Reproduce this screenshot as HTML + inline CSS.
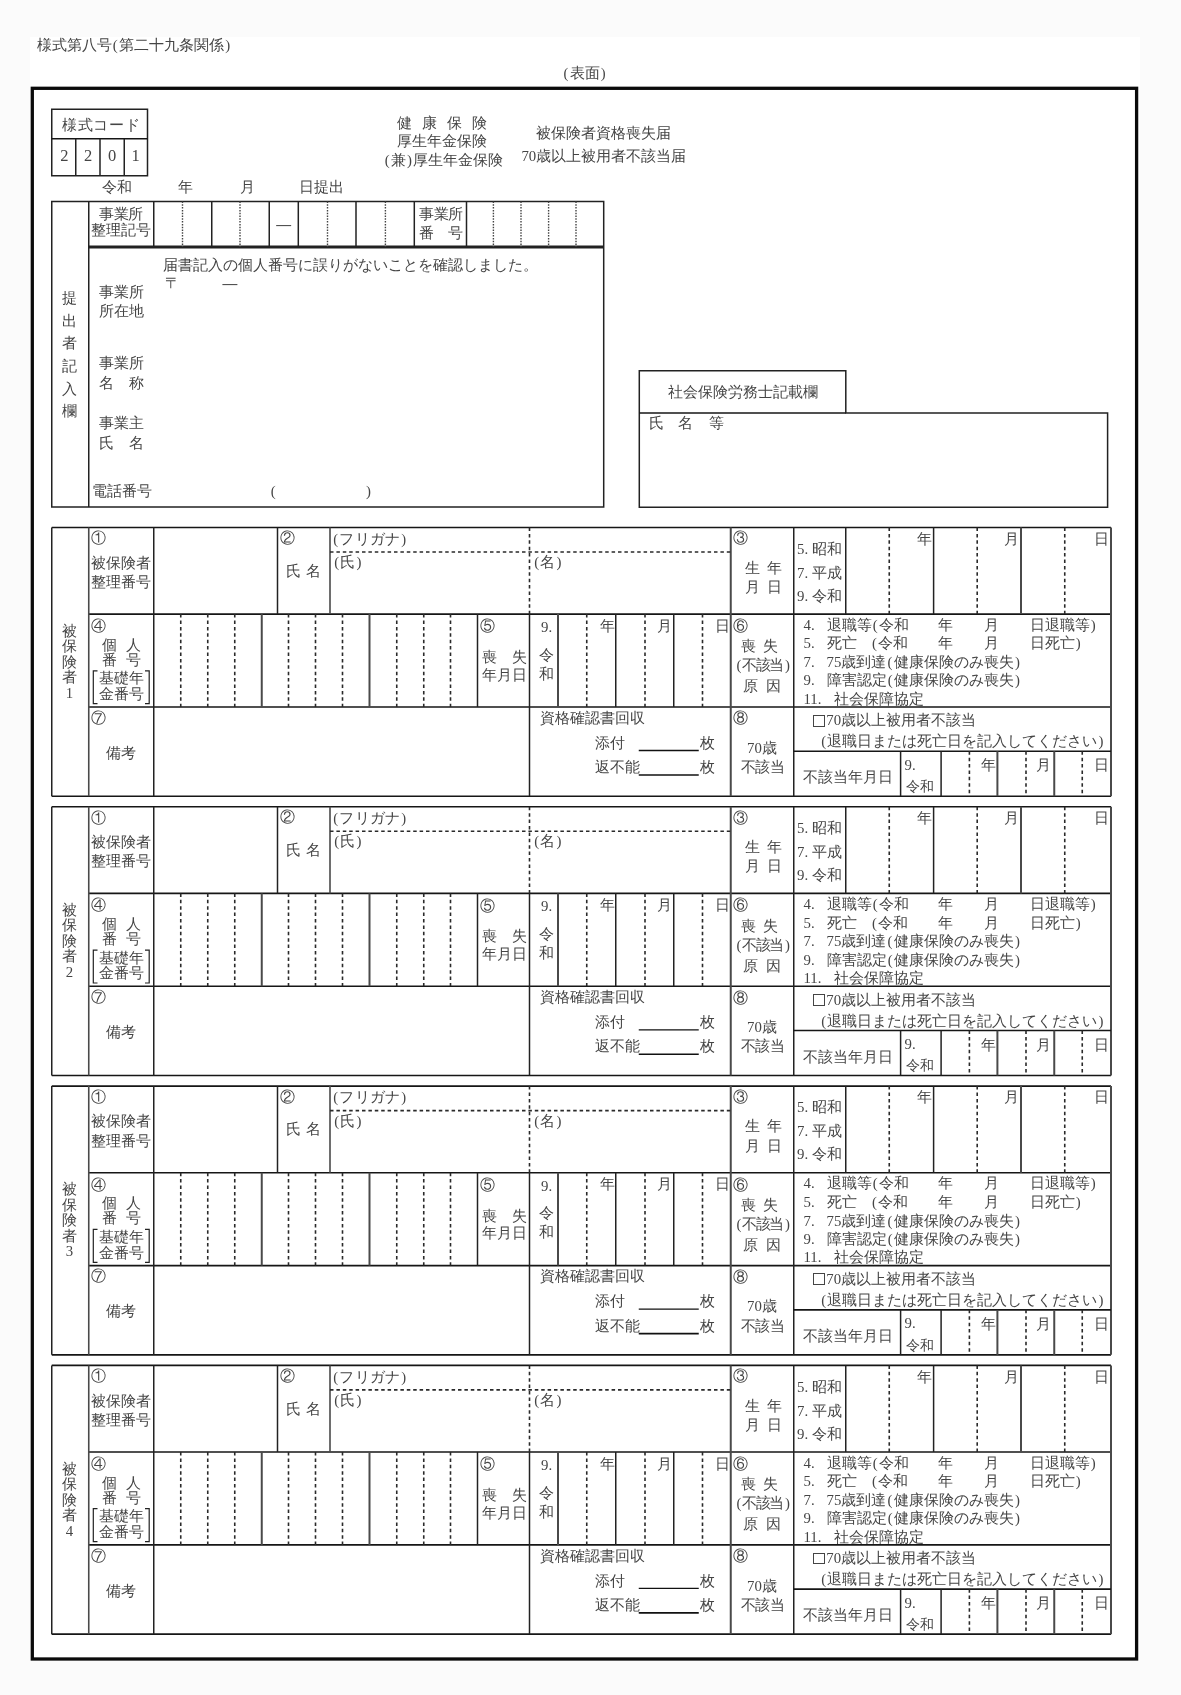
<!DOCTYPE html>
<html lang="ja">
<head>
<meta charset="utf-8">
<title>健康保険・厚生年金保険 被保険者資格喪失届</title>
<style>
html,body{margin:0;padding:0;}
body{width:1181px;height:1695px;background:#fbfbfb;position:relative;overflow:hidden;
font-family:"Liberation Serif",serif;color:#454545;}
#paper{position:absolute;left:29.5px;top:37px;width:1110px;height:1624px;background:#fff;}
#form{position:absolute;left:0;top:0;width:1181px;height:1695px;filter:blur(0.45px);}
#form svg{position:absolute;left:0;top:0;}
#form span{position:absolute;white-space:nowrap;font-size:14.8px;line-height:14.8px;}
#form span i{display:inline-block;width:.5em;text-align:center;font-style:normal;}
#form span b.sq{display:inline-block;box-sizing:border-box;width:.8em;height:.8em;margin:0 .1em;border:1px solid #454545;vertical-align:-0.08em;}
#form span.dash{font-weight:bold;}
</style>
</head>
<body>
<div id="paper"></div>
<div id="form">
<svg width="1181" height="1695" viewBox="0 0 1181 1695">
<rect x="32.30" y="88.30" width="1104.30" height="1570.70" fill="none" stroke="#0a0a0a" stroke-width="3.3"/>
<rect x="51.75" y="109.25" width="95.75" height="66.50" fill="none" stroke="#222222" stroke-width="1.5"/>
<line x1="51.75" y1="138.75" x2="147.50" y2="138.75" stroke="#161616" stroke-width="1.6"/>
<line x1="75.75" y1="138.75" x2="75.75" y2="175.75" stroke="#222222" stroke-width="1.5"/>
<line x1="100.00" y1="138.75" x2="100.00" y2="175.75" stroke="#222222" stroke-width="1.5"/>
<line x1="124.25" y1="138.75" x2="124.25" y2="175.75" stroke="#222222" stroke-width="1.5"/>
<rect x="51.75" y="201.50" width="551.95" height="305.50" fill="none" stroke="#222222" stroke-width="1.5"/>
<line x1="88.75" y1="201.50" x2="88.75" y2="507.00" stroke="#222222" stroke-width="1.5"/>
<line x1="88.75" y1="247.00" x2="603.70" y2="247.00" stroke="#222" stroke-width="3.0"/>
<line x1="153.75" y1="201.50" x2="153.75" y2="247.00" stroke="#222222" stroke-width="1.5"/>
<line x1="182.50" y1="201.50" x2="182.50" y2="247.00" stroke="#444" stroke-width="1.4" stroke-dasharray="1.5 1.3"/>
<line x1="211.75" y1="201.50" x2="211.75" y2="247.00" stroke="#222222" stroke-width="1.5"/>
<line x1="240.00" y1="201.50" x2="240.00" y2="247.00" stroke="#444" stroke-width="1.4" stroke-dasharray="1.5 1.3"/>
<line x1="269.25" y1="201.50" x2="269.25" y2="247.00" stroke="#222222" stroke-width="1.5"/>
<line x1="298.30" y1="201.50" x2="298.30" y2="247.00" stroke="#222222" stroke-width="1.5"/>
<line x1="327.50" y1="201.50" x2="327.50" y2="247.00" stroke="#444" stroke-width="1.4" stroke-dasharray="1.5 1.3"/>
<line x1="356.00" y1="201.50" x2="356.00" y2="247.00" stroke="#222222" stroke-width="1.5"/>
<line x1="385.40" y1="201.50" x2="385.40" y2="247.00" stroke="#444" stroke-width="1.4" stroke-dasharray="1.5 1.3"/>
<line x1="414.30" y1="201.50" x2="414.30" y2="247.00" stroke="#222222" stroke-width="1.5"/>
<line x1="466.50" y1="201.50" x2="466.50" y2="247.00" stroke="#222222" stroke-width="1.5"/>
<line x1="493.40" y1="201.50" x2="493.40" y2="247.00" stroke="#444" stroke-width="1.4" stroke-dasharray="1.5 1.3"/>
<line x1="521.00" y1="201.50" x2="521.00" y2="247.00" stroke="#444" stroke-width="1.4" stroke-dasharray="1.5 1.3"/>
<line x1="548.60" y1="201.50" x2="548.60" y2="247.00" stroke="#444" stroke-width="1.4" stroke-dasharray="1.5 1.3"/>
<line x1="576.00" y1="201.50" x2="576.00" y2="247.00" stroke="#444" stroke-width="1.4" stroke-dasharray="1.5 1.3"/>
<path d="M639.3 507.3 V370.8 H845.8 V413 H1107.6 V507.3 Z" fill="none" stroke="#222222" stroke-width="1.5"/>
<line x1="639.30" y1="413.00" x2="845.80" y2="413.00" stroke="#161616" stroke-width="1.6"/>
<line x1="51.75" y1="527.50" x2="1111.00" y2="527.50" stroke="#161616" stroke-width="1.6"/>
<line x1="88.75" y1="614.10" x2="1111.00" y2="614.10" stroke="#161616" stroke-width="1.6"/>
<line x1="88.75" y1="707.00" x2="1111.00" y2="707.00" stroke="#161616" stroke-width="1.6"/>
<line x1="51.75" y1="796.25" x2="1111.00" y2="796.25" stroke="#161616" stroke-width="1.6"/>
<line x1="51.75" y1="527.50" x2="51.75" y2="796.25" stroke="#222222" stroke-width="1.5"/>
<line x1="88.75" y1="527.50" x2="88.75" y2="796.25" stroke="#4a4a4a" stroke-width="1.6"/>
<line x1="153.75" y1="527.50" x2="153.75" y2="796.25" stroke="#222222" stroke-width="1.5"/>
<line x1="277.50" y1="527.50" x2="277.50" y2="614.10" stroke="#222222" stroke-width="1.5"/>
<line x1="330.00" y1="527.50" x2="330.00" y2="614.10" stroke="#4a4a4a" stroke-width="1.6"/>
<line x1="529.50" y1="527.50" x2="529.50" y2="614.10" stroke="#2a2a2a" stroke-width="1.6" stroke-dasharray="3.5 2.9"/>
<line x1="529.50" y1="614.10" x2="529.50" y2="796.25" stroke="#222222" stroke-width="1.5"/>
<line x1="730.75" y1="527.50" x2="730.75" y2="796.25" stroke="#4a4a4a" stroke-width="2.0"/>
<line x1="793.75" y1="527.50" x2="793.75" y2="796.25" stroke="#222222" stroke-width="1.5"/>
<line x1="1111.00" y1="527.50" x2="1111.00" y2="796.25" stroke="#4a4a4a" stroke-width="2.0"/>
<line x1="330.00" y1="552.00" x2="730.75" y2="552.00" stroke="#2a2a2a" stroke-width="1.6" stroke-dasharray="3.5 2.9"/>
<line x1="845.75" y1="527.50" x2="845.75" y2="614.10" stroke="#222222" stroke-width="1.5"/>
<line x1="889.25" y1="527.50" x2="889.25" y2="614.10" stroke="#2a2a2a" stroke-width="1.6" stroke-dasharray="3.5 2.9"/>
<line x1="933.60" y1="527.50" x2="933.60" y2="614.10" stroke="#222222" stroke-width="1.5"/>
<line x1="977.20" y1="527.50" x2="977.20" y2="614.10" stroke="#2a2a2a" stroke-width="1.6" stroke-dasharray="3.5 2.9"/>
<line x1="1021.00" y1="527.50" x2="1021.00" y2="614.10" stroke="#4a4a4a" stroke-width="2.0"/>
<line x1="1064.75" y1="527.50" x2="1064.75" y2="614.10" stroke="#2a2a2a" stroke-width="1.6" stroke-dasharray="3.5 2.9"/>
<line x1="180.75" y1="614.10" x2="180.75" y2="707.00" stroke="#2a2a2a" stroke-width="1.6" stroke-dasharray="3.5 2.9"/>
<line x1="207.75" y1="614.10" x2="207.75" y2="707.00" stroke="#2a2a2a" stroke-width="1.6" stroke-dasharray="3.5 2.9"/>
<line x1="234.75" y1="614.10" x2="234.75" y2="707.00" stroke="#2a2a2a" stroke-width="1.6" stroke-dasharray="3.5 2.9"/>
<line x1="261.75" y1="614.10" x2="261.75" y2="707.00" stroke="#4a4a4a" stroke-width="2.0"/>
<line x1="288.50" y1="614.10" x2="288.50" y2="707.00" stroke="#2a2a2a" stroke-width="1.6" stroke-dasharray="3.5 2.9"/>
<line x1="315.50" y1="614.10" x2="315.50" y2="707.00" stroke="#2a2a2a" stroke-width="1.6" stroke-dasharray="3.5 2.9"/>
<line x1="342.50" y1="614.10" x2="342.50" y2="707.00" stroke="#2a2a2a" stroke-width="1.6" stroke-dasharray="3.5 2.9"/>
<line x1="369.50" y1="614.10" x2="369.50" y2="707.00" stroke="#4a4a4a" stroke-width="2.0"/>
<line x1="396.75" y1="614.10" x2="396.75" y2="707.00" stroke="#2a2a2a" stroke-width="1.6" stroke-dasharray="3.5 2.9"/>
<line x1="423.75" y1="614.10" x2="423.75" y2="707.00" stroke="#2a2a2a" stroke-width="1.6" stroke-dasharray="3.5 2.9"/>
<line x1="450.50" y1="614.10" x2="450.50" y2="707.00" stroke="#2a2a2a" stroke-width="1.6" stroke-dasharray="3.5 2.9"/>
<line x1="477.50" y1="614.10" x2="477.50" y2="707.00" stroke="#222222" stroke-width="1.5"/>
<line x1="558.00" y1="614.10" x2="558.00" y2="707.00" stroke="#4a4a4a" stroke-width="2.0"/>
<line x1="586.75" y1="614.10" x2="586.75" y2="707.00" stroke="#2a2a2a" stroke-width="1.6" stroke-dasharray="3.5 2.9"/>
<line x1="615.75" y1="614.10" x2="615.75" y2="707.00" stroke="#222222" stroke-width="1.5"/>
<line x1="645.00" y1="614.10" x2="645.00" y2="707.00" stroke="#2a2a2a" stroke-width="1.6" stroke-dasharray="3.5 2.9"/>
<line x1="673.75" y1="614.10" x2="673.75" y2="707.00" stroke="#222222" stroke-width="1.5"/>
<line x1="702.50" y1="614.10" x2="702.50" y2="707.00" stroke="#2a2a2a" stroke-width="1.6" stroke-dasharray="3.5 2.9"/>
<line x1="793.75" y1="751.25" x2="1111.00" y2="751.25" stroke="#161616" stroke-width="1.6"/>
<line x1="900.60" y1="751.25" x2="900.60" y2="796.25" stroke="#222222" stroke-width="1.5"/>
<line x1="941.10" y1="751.25" x2="941.10" y2="796.25" stroke="#222222" stroke-width="1.5"/>
<line x1="969.40" y1="751.25" x2="969.40" y2="796.25" stroke="#2a2a2a" stroke-width="1.6" stroke-dasharray="3.5 2.9"/>
<line x1="997.40" y1="751.25" x2="997.40" y2="796.25" stroke="#4a4a4a" stroke-width="2.0"/>
<line x1="1026.00" y1="751.25" x2="1026.00" y2="796.25" stroke="#2a2a2a" stroke-width="1.6" stroke-dasharray="3.5 2.9"/>
<line x1="1054.25" y1="751.25" x2="1054.25" y2="796.25" stroke="#4a4a4a" stroke-width="2.0"/>
<line x1="1082.25" y1="751.25" x2="1082.25" y2="796.25" stroke="#2a2a2a" stroke-width="1.6" stroke-dasharray="3.5 2.9"/>
<line x1="638.75" y1="750.50" x2="698.75" y2="750.50" stroke="#111" stroke-width="1.3"/>
<line x1="638.75" y1="775.00" x2="698.75" y2="775.00" stroke="#111" stroke-width="1.6"/>
<path d="M97.50 670.80 H93.3 V703.70 H97.5 M145 670.80 H149.2 V703.70 H145" fill="none" stroke="#222222" stroke-width="1.2"/>
<line x1="51.75" y1="806.80" x2="1111.00" y2="806.80" stroke="#161616" stroke-width="1.6"/>
<line x1="88.75" y1="893.40" x2="1111.00" y2="893.40" stroke="#161616" stroke-width="1.6"/>
<line x1="88.75" y1="986.30" x2="1111.00" y2="986.30" stroke="#161616" stroke-width="1.6"/>
<line x1="51.75" y1="1075.55" x2="1111.00" y2="1075.55" stroke="#161616" stroke-width="1.6"/>
<line x1="51.75" y1="806.80" x2="51.75" y2="1075.55" stroke="#222222" stroke-width="1.5"/>
<line x1="88.75" y1="806.80" x2="88.75" y2="1075.55" stroke="#4a4a4a" stroke-width="1.6"/>
<line x1="153.75" y1="806.80" x2="153.75" y2="1075.55" stroke="#222222" stroke-width="1.5"/>
<line x1="277.50" y1="806.80" x2="277.50" y2="893.40" stroke="#222222" stroke-width="1.5"/>
<line x1="330.00" y1="806.80" x2="330.00" y2="893.40" stroke="#4a4a4a" stroke-width="1.6"/>
<line x1="529.50" y1="806.80" x2="529.50" y2="893.40" stroke="#2a2a2a" stroke-width="1.6" stroke-dasharray="3.5 2.9"/>
<line x1="529.50" y1="893.40" x2="529.50" y2="1075.55" stroke="#222222" stroke-width="1.5"/>
<line x1="730.75" y1="806.80" x2="730.75" y2="1075.55" stroke="#4a4a4a" stroke-width="2.0"/>
<line x1="793.75" y1="806.80" x2="793.75" y2="1075.55" stroke="#222222" stroke-width="1.5"/>
<line x1="1111.00" y1="806.80" x2="1111.00" y2="1075.55" stroke="#4a4a4a" stroke-width="2.0"/>
<line x1="330.00" y1="831.30" x2="730.75" y2="831.30" stroke="#2a2a2a" stroke-width="1.6" stroke-dasharray="3.5 2.9"/>
<line x1="845.75" y1="806.80" x2="845.75" y2="893.40" stroke="#222222" stroke-width="1.5"/>
<line x1="889.25" y1="806.80" x2="889.25" y2="893.40" stroke="#2a2a2a" stroke-width="1.6" stroke-dasharray="3.5 2.9"/>
<line x1="933.60" y1="806.80" x2="933.60" y2="893.40" stroke="#222222" stroke-width="1.5"/>
<line x1="977.20" y1="806.80" x2="977.20" y2="893.40" stroke="#2a2a2a" stroke-width="1.6" stroke-dasharray="3.5 2.9"/>
<line x1="1021.00" y1="806.80" x2="1021.00" y2="893.40" stroke="#4a4a4a" stroke-width="2.0"/>
<line x1="1064.75" y1="806.80" x2="1064.75" y2="893.40" stroke="#2a2a2a" stroke-width="1.6" stroke-dasharray="3.5 2.9"/>
<line x1="180.75" y1="893.40" x2="180.75" y2="986.30" stroke="#2a2a2a" stroke-width="1.6" stroke-dasharray="3.5 2.9"/>
<line x1="207.75" y1="893.40" x2="207.75" y2="986.30" stroke="#2a2a2a" stroke-width="1.6" stroke-dasharray="3.5 2.9"/>
<line x1="234.75" y1="893.40" x2="234.75" y2="986.30" stroke="#2a2a2a" stroke-width="1.6" stroke-dasharray="3.5 2.9"/>
<line x1="261.75" y1="893.40" x2="261.75" y2="986.30" stroke="#4a4a4a" stroke-width="2.0"/>
<line x1="288.50" y1="893.40" x2="288.50" y2="986.30" stroke="#2a2a2a" stroke-width="1.6" stroke-dasharray="3.5 2.9"/>
<line x1="315.50" y1="893.40" x2="315.50" y2="986.30" stroke="#2a2a2a" stroke-width="1.6" stroke-dasharray="3.5 2.9"/>
<line x1="342.50" y1="893.40" x2="342.50" y2="986.30" stroke="#2a2a2a" stroke-width="1.6" stroke-dasharray="3.5 2.9"/>
<line x1="369.50" y1="893.40" x2="369.50" y2="986.30" stroke="#4a4a4a" stroke-width="2.0"/>
<line x1="396.75" y1="893.40" x2="396.75" y2="986.30" stroke="#2a2a2a" stroke-width="1.6" stroke-dasharray="3.5 2.9"/>
<line x1="423.75" y1="893.40" x2="423.75" y2="986.30" stroke="#2a2a2a" stroke-width="1.6" stroke-dasharray="3.5 2.9"/>
<line x1="450.50" y1="893.40" x2="450.50" y2="986.30" stroke="#2a2a2a" stroke-width="1.6" stroke-dasharray="3.5 2.9"/>
<line x1="477.50" y1="893.40" x2="477.50" y2="986.30" stroke="#222222" stroke-width="1.5"/>
<line x1="558.00" y1="893.40" x2="558.00" y2="986.30" stroke="#4a4a4a" stroke-width="2.0"/>
<line x1="586.75" y1="893.40" x2="586.75" y2="986.30" stroke="#2a2a2a" stroke-width="1.6" stroke-dasharray="3.5 2.9"/>
<line x1="615.75" y1="893.40" x2="615.75" y2="986.30" stroke="#222222" stroke-width="1.5"/>
<line x1="645.00" y1="893.40" x2="645.00" y2="986.30" stroke="#2a2a2a" stroke-width="1.6" stroke-dasharray="3.5 2.9"/>
<line x1="673.75" y1="893.40" x2="673.75" y2="986.30" stroke="#222222" stroke-width="1.5"/>
<line x1="702.50" y1="893.40" x2="702.50" y2="986.30" stroke="#2a2a2a" stroke-width="1.6" stroke-dasharray="3.5 2.9"/>
<line x1="793.75" y1="1030.55" x2="1111.00" y2="1030.55" stroke="#161616" stroke-width="1.6"/>
<line x1="900.60" y1="1030.55" x2="900.60" y2="1075.55" stroke="#222222" stroke-width="1.5"/>
<line x1="941.10" y1="1030.55" x2="941.10" y2="1075.55" stroke="#222222" stroke-width="1.5"/>
<line x1="969.40" y1="1030.55" x2="969.40" y2="1075.55" stroke="#2a2a2a" stroke-width="1.6" stroke-dasharray="3.5 2.9"/>
<line x1="997.40" y1="1030.55" x2="997.40" y2="1075.55" stroke="#4a4a4a" stroke-width="2.0"/>
<line x1="1026.00" y1="1030.55" x2="1026.00" y2="1075.55" stroke="#2a2a2a" stroke-width="1.6" stroke-dasharray="3.5 2.9"/>
<line x1="1054.25" y1="1030.55" x2="1054.25" y2="1075.55" stroke="#4a4a4a" stroke-width="2.0"/>
<line x1="1082.25" y1="1030.55" x2="1082.25" y2="1075.55" stroke="#2a2a2a" stroke-width="1.6" stroke-dasharray="3.5 2.9"/>
<line x1="638.75" y1="1029.80" x2="698.75" y2="1029.80" stroke="#111" stroke-width="1.3"/>
<line x1="638.75" y1="1054.30" x2="698.75" y2="1054.30" stroke="#111" stroke-width="1.6"/>
<path d="M97.50 950.10 H93.3 V983.00 H97.5 M145 950.10 H149.2 V983.00 H145" fill="none" stroke="#222222" stroke-width="1.2"/>
<line x1="51.75" y1="1086.10" x2="1111.00" y2="1086.10" stroke="#161616" stroke-width="1.6"/>
<line x1="88.75" y1="1172.70" x2="1111.00" y2="1172.70" stroke="#161616" stroke-width="1.6"/>
<line x1="88.75" y1="1265.60" x2="1111.00" y2="1265.60" stroke="#161616" stroke-width="1.6"/>
<line x1="51.75" y1="1354.85" x2="1111.00" y2="1354.85" stroke="#161616" stroke-width="1.6"/>
<line x1="51.75" y1="1086.10" x2="51.75" y2="1354.85" stroke="#222222" stroke-width="1.5"/>
<line x1="88.75" y1="1086.10" x2="88.75" y2="1354.85" stroke="#4a4a4a" stroke-width="1.6"/>
<line x1="153.75" y1="1086.10" x2="153.75" y2="1354.85" stroke="#222222" stroke-width="1.5"/>
<line x1="277.50" y1="1086.10" x2="277.50" y2="1172.70" stroke="#222222" stroke-width="1.5"/>
<line x1="330.00" y1="1086.10" x2="330.00" y2="1172.70" stroke="#4a4a4a" stroke-width="1.6"/>
<line x1="529.50" y1="1086.10" x2="529.50" y2="1172.70" stroke="#2a2a2a" stroke-width="1.6" stroke-dasharray="3.5 2.9"/>
<line x1="529.50" y1="1172.70" x2="529.50" y2="1354.85" stroke="#222222" stroke-width="1.5"/>
<line x1="730.75" y1="1086.10" x2="730.75" y2="1354.85" stroke="#4a4a4a" stroke-width="2.0"/>
<line x1="793.75" y1="1086.10" x2="793.75" y2="1354.85" stroke="#222222" stroke-width="1.5"/>
<line x1="1111.00" y1="1086.10" x2="1111.00" y2="1354.85" stroke="#4a4a4a" stroke-width="2.0"/>
<line x1="330.00" y1="1110.60" x2="730.75" y2="1110.60" stroke="#2a2a2a" stroke-width="1.6" stroke-dasharray="3.5 2.9"/>
<line x1="845.75" y1="1086.10" x2="845.75" y2="1172.70" stroke="#222222" stroke-width="1.5"/>
<line x1="889.25" y1="1086.10" x2="889.25" y2="1172.70" stroke="#2a2a2a" stroke-width="1.6" stroke-dasharray="3.5 2.9"/>
<line x1="933.60" y1="1086.10" x2="933.60" y2="1172.70" stroke="#222222" stroke-width="1.5"/>
<line x1="977.20" y1="1086.10" x2="977.20" y2="1172.70" stroke="#2a2a2a" stroke-width="1.6" stroke-dasharray="3.5 2.9"/>
<line x1="1021.00" y1="1086.10" x2="1021.00" y2="1172.70" stroke="#4a4a4a" stroke-width="2.0"/>
<line x1="1064.75" y1="1086.10" x2="1064.75" y2="1172.70" stroke="#2a2a2a" stroke-width="1.6" stroke-dasharray="3.5 2.9"/>
<line x1="180.75" y1="1172.70" x2="180.75" y2="1265.60" stroke="#2a2a2a" stroke-width="1.6" stroke-dasharray="3.5 2.9"/>
<line x1="207.75" y1="1172.70" x2="207.75" y2="1265.60" stroke="#2a2a2a" stroke-width="1.6" stroke-dasharray="3.5 2.9"/>
<line x1="234.75" y1="1172.70" x2="234.75" y2="1265.60" stroke="#2a2a2a" stroke-width="1.6" stroke-dasharray="3.5 2.9"/>
<line x1="261.75" y1="1172.70" x2="261.75" y2="1265.60" stroke="#4a4a4a" stroke-width="2.0"/>
<line x1="288.50" y1="1172.70" x2="288.50" y2="1265.60" stroke="#2a2a2a" stroke-width="1.6" stroke-dasharray="3.5 2.9"/>
<line x1="315.50" y1="1172.70" x2="315.50" y2="1265.60" stroke="#2a2a2a" stroke-width="1.6" stroke-dasharray="3.5 2.9"/>
<line x1="342.50" y1="1172.70" x2="342.50" y2="1265.60" stroke="#2a2a2a" stroke-width="1.6" stroke-dasharray="3.5 2.9"/>
<line x1="369.50" y1="1172.70" x2="369.50" y2="1265.60" stroke="#4a4a4a" stroke-width="2.0"/>
<line x1="396.75" y1="1172.70" x2="396.75" y2="1265.60" stroke="#2a2a2a" stroke-width="1.6" stroke-dasharray="3.5 2.9"/>
<line x1="423.75" y1="1172.70" x2="423.75" y2="1265.60" stroke="#2a2a2a" stroke-width="1.6" stroke-dasharray="3.5 2.9"/>
<line x1="450.50" y1="1172.70" x2="450.50" y2="1265.60" stroke="#2a2a2a" stroke-width="1.6" stroke-dasharray="3.5 2.9"/>
<line x1="477.50" y1="1172.70" x2="477.50" y2="1265.60" stroke="#222222" stroke-width="1.5"/>
<line x1="558.00" y1="1172.70" x2="558.00" y2="1265.60" stroke="#4a4a4a" stroke-width="2.0"/>
<line x1="586.75" y1="1172.70" x2="586.75" y2="1265.60" stroke="#2a2a2a" stroke-width="1.6" stroke-dasharray="3.5 2.9"/>
<line x1="615.75" y1="1172.70" x2="615.75" y2="1265.60" stroke="#222222" stroke-width="1.5"/>
<line x1="645.00" y1="1172.70" x2="645.00" y2="1265.60" stroke="#2a2a2a" stroke-width="1.6" stroke-dasharray="3.5 2.9"/>
<line x1="673.75" y1="1172.70" x2="673.75" y2="1265.60" stroke="#222222" stroke-width="1.5"/>
<line x1="702.50" y1="1172.70" x2="702.50" y2="1265.60" stroke="#2a2a2a" stroke-width="1.6" stroke-dasharray="3.5 2.9"/>
<line x1="793.75" y1="1309.85" x2="1111.00" y2="1309.85" stroke="#161616" stroke-width="1.6"/>
<line x1="900.60" y1="1309.85" x2="900.60" y2="1354.85" stroke="#222222" stroke-width="1.5"/>
<line x1="941.10" y1="1309.85" x2="941.10" y2="1354.85" stroke="#222222" stroke-width="1.5"/>
<line x1="969.40" y1="1309.85" x2="969.40" y2="1354.85" stroke="#2a2a2a" stroke-width="1.6" stroke-dasharray="3.5 2.9"/>
<line x1="997.40" y1="1309.85" x2="997.40" y2="1354.85" stroke="#4a4a4a" stroke-width="2.0"/>
<line x1="1026.00" y1="1309.85" x2="1026.00" y2="1354.85" stroke="#2a2a2a" stroke-width="1.6" stroke-dasharray="3.5 2.9"/>
<line x1="1054.25" y1="1309.85" x2="1054.25" y2="1354.85" stroke="#4a4a4a" stroke-width="2.0"/>
<line x1="1082.25" y1="1309.85" x2="1082.25" y2="1354.85" stroke="#2a2a2a" stroke-width="1.6" stroke-dasharray="3.5 2.9"/>
<line x1="638.75" y1="1309.10" x2="698.75" y2="1309.10" stroke="#111" stroke-width="1.3"/>
<line x1="638.75" y1="1333.60" x2="698.75" y2="1333.60" stroke="#111" stroke-width="1.6"/>
<path d="M97.50 1229.40 H93.3 V1262.30 H97.5 M145 1229.40 H149.2 V1262.30 H145" fill="none" stroke="#222222" stroke-width="1.2"/>
<line x1="51.75" y1="1365.40" x2="1111.00" y2="1365.40" stroke="#161616" stroke-width="1.6"/>
<line x1="88.75" y1="1452.00" x2="1111.00" y2="1452.00" stroke="#161616" stroke-width="1.6"/>
<line x1="88.75" y1="1544.90" x2="1111.00" y2="1544.90" stroke="#161616" stroke-width="1.6"/>
<line x1="51.75" y1="1634.15" x2="1111.00" y2="1634.15" stroke="#161616" stroke-width="1.6"/>
<line x1="51.75" y1="1365.40" x2="51.75" y2="1634.15" stroke="#222222" stroke-width="1.5"/>
<line x1="88.75" y1="1365.40" x2="88.75" y2="1634.15" stroke="#4a4a4a" stroke-width="1.6"/>
<line x1="153.75" y1="1365.40" x2="153.75" y2="1634.15" stroke="#222222" stroke-width="1.5"/>
<line x1="277.50" y1="1365.40" x2="277.50" y2="1452.00" stroke="#222222" stroke-width="1.5"/>
<line x1="330.00" y1="1365.40" x2="330.00" y2="1452.00" stroke="#4a4a4a" stroke-width="1.6"/>
<line x1="529.50" y1="1365.40" x2="529.50" y2="1452.00" stroke="#2a2a2a" stroke-width="1.6" stroke-dasharray="3.5 2.9"/>
<line x1="529.50" y1="1452.00" x2="529.50" y2="1634.15" stroke="#222222" stroke-width="1.5"/>
<line x1="730.75" y1="1365.40" x2="730.75" y2="1634.15" stroke="#4a4a4a" stroke-width="2.0"/>
<line x1="793.75" y1="1365.40" x2="793.75" y2="1634.15" stroke="#222222" stroke-width="1.5"/>
<line x1="1111.00" y1="1365.40" x2="1111.00" y2="1634.15" stroke="#4a4a4a" stroke-width="2.0"/>
<line x1="330.00" y1="1389.90" x2="730.75" y2="1389.90" stroke="#2a2a2a" stroke-width="1.6" stroke-dasharray="3.5 2.9"/>
<line x1="845.75" y1="1365.40" x2="845.75" y2="1452.00" stroke="#222222" stroke-width="1.5"/>
<line x1="889.25" y1="1365.40" x2="889.25" y2="1452.00" stroke="#2a2a2a" stroke-width="1.6" stroke-dasharray="3.5 2.9"/>
<line x1="933.60" y1="1365.40" x2="933.60" y2="1452.00" stroke="#222222" stroke-width="1.5"/>
<line x1="977.20" y1="1365.40" x2="977.20" y2="1452.00" stroke="#2a2a2a" stroke-width="1.6" stroke-dasharray="3.5 2.9"/>
<line x1="1021.00" y1="1365.40" x2="1021.00" y2="1452.00" stroke="#4a4a4a" stroke-width="2.0"/>
<line x1="1064.75" y1="1365.40" x2="1064.75" y2="1452.00" stroke="#2a2a2a" stroke-width="1.6" stroke-dasharray="3.5 2.9"/>
<line x1="180.75" y1="1452.00" x2="180.75" y2="1544.90" stroke="#2a2a2a" stroke-width="1.6" stroke-dasharray="3.5 2.9"/>
<line x1="207.75" y1="1452.00" x2="207.75" y2="1544.90" stroke="#2a2a2a" stroke-width="1.6" stroke-dasharray="3.5 2.9"/>
<line x1="234.75" y1="1452.00" x2="234.75" y2="1544.90" stroke="#2a2a2a" stroke-width="1.6" stroke-dasharray="3.5 2.9"/>
<line x1="261.75" y1="1452.00" x2="261.75" y2="1544.90" stroke="#4a4a4a" stroke-width="2.0"/>
<line x1="288.50" y1="1452.00" x2="288.50" y2="1544.90" stroke="#2a2a2a" stroke-width="1.6" stroke-dasharray="3.5 2.9"/>
<line x1="315.50" y1="1452.00" x2="315.50" y2="1544.90" stroke="#2a2a2a" stroke-width="1.6" stroke-dasharray="3.5 2.9"/>
<line x1="342.50" y1="1452.00" x2="342.50" y2="1544.90" stroke="#2a2a2a" stroke-width="1.6" stroke-dasharray="3.5 2.9"/>
<line x1="369.50" y1="1452.00" x2="369.50" y2="1544.90" stroke="#4a4a4a" stroke-width="2.0"/>
<line x1="396.75" y1="1452.00" x2="396.75" y2="1544.90" stroke="#2a2a2a" stroke-width="1.6" stroke-dasharray="3.5 2.9"/>
<line x1="423.75" y1="1452.00" x2="423.75" y2="1544.90" stroke="#2a2a2a" stroke-width="1.6" stroke-dasharray="3.5 2.9"/>
<line x1="450.50" y1="1452.00" x2="450.50" y2="1544.90" stroke="#2a2a2a" stroke-width="1.6" stroke-dasharray="3.5 2.9"/>
<line x1="477.50" y1="1452.00" x2="477.50" y2="1544.90" stroke="#222222" stroke-width="1.5"/>
<line x1="558.00" y1="1452.00" x2="558.00" y2="1544.90" stroke="#4a4a4a" stroke-width="2.0"/>
<line x1="586.75" y1="1452.00" x2="586.75" y2="1544.90" stroke="#2a2a2a" stroke-width="1.6" stroke-dasharray="3.5 2.9"/>
<line x1="615.75" y1="1452.00" x2="615.75" y2="1544.90" stroke="#222222" stroke-width="1.5"/>
<line x1="645.00" y1="1452.00" x2="645.00" y2="1544.90" stroke="#2a2a2a" stroke-width="1.6" stroke-dasharray="3.5 2.9"/>
<line x1="673.75" y1="1452.00" x2="673.75" y2="1544.90" stroke="#222222" stroke-width="1.5"/>
<line x1="702.50" y1="1452.00" x2="702.50" y2="1544.90" stroke="#2a2a2a" stroke-width="1.6" stroke-dasharray="3.5 2.9"/>
<line x1="793.75" y1="1589.15" x2="1111.00" y2="1589.15" stroke="#161616" stroke-width="1.6"/>
<line x1="900.60" y1="1589.15" x2="900.60" y2="1634.15" stroke="#222222" stroke-width="1.5"/>
<line x1="941.10" y1="1589.15" x2="941.10" y2="1634.15" stroke="#222222" stroke-width="1.5"/>
<line x1="969.40" y1="1589.15" x2="969.40" y2="1634.15" stroke="#2a2a2a" stroke-width="1.6" stroke-dasharray="3.5 2.9"/>
<line x1="997.40" y1="1589.15" x2="997.40" y2="1634.15" stroke="#4a4a4a" stroke-width="2.0"/>
<line x1="1026.00" y1="1589.15" x2="1026.00" y2="1634.15" stroke="#2a2a2a" stroke-width="1.6" stroke-dasharray="3.5 2.9"/>
<line x1="1054.25" y1="1589.15" x2="1054.25" y2="1634.15" stroke="#4a4a4a" stroke-width="2.0"/>
<line x1="1082.25" y1="1589.15" x2="1082.25" y2="1634.15" stroke="#2a2a2a" stroke-width="1.6" stroke-dasharray="3.5 2.9"/>
<line x1="638.75" y1="1588.40" x2="698.75" y2="1588.40" stroke="#111" stroke-width="1.3"/>
<line x1="638.75" y1="1612.90" x2="698.75" y2="1612.90" stroke="#111" stroke-width="1.6"/>
<path d="M97.50 1508.70 H93.3 V1541.60 H97.5 M145 1508.70 H149.2 V1541.60 H145" fill="none" stroke="#222222" stroke-width="1.2"/>
</svg>
<span style="left:36.50px;top:38.33px;font-size:14.85px;line-height:14.85px;">様式第八号<i>(</i>第二十九条関係<i>)</i></span>
<span style="left:562.30px;top:66.40px;font-size:14.6px;line-height:14.6px;"><i>(</i>表面<i>)</i></span>
<span style="left:62.00px;top:117.60px;letter-spacing:0.7px;">様式コード</span>
<span style="left:54.30px;top:148.35px;font-size:16.5px;line-height:16.5px;width:20px;text-align:center;">2</span>
<span style="left:78.20px;top:148.35px;font-size:16.5px;line-height:16.5px;width:20px;text-align:center;">2</span>
<span style="left:102.00px;top:148.35px;font-size:16.5px;line-height:16.5px;width:20px;text-align:center;">0</span>
<span style="left:125.70px;top:148.35px;font-size:16.5px;line-height:16.5px;width:20px;text-align:center;">1</span>
<span style="left:102.00px;top:180.10px;">令和</span>
<span style="left:178.00px;top:180.10px;">年</span>
<span style="left:240.00px;top:180.10px;">月</span>
<span style="left:298.50px;top:180.10px;">日提出</span>
<span style="left:397.40px;top:115.80px;letter-spacing:9.9px;">健康保険</span>
<span style="left:397.40px;top:134.00px;">厚生年金保険</span>
<span style="left:383.50px;top:152.80px;"><i>(</i>兼<i>)</i>厚生年金保険</span>
<span style="left:536.00px;top:125.50px;">被保険者資格喪失届</span>
<span style="left:521.40px;top:149.30px;">70歳以上被用者不該当届</span>
<span style="left:99.00px;top:206.50px;letter-spacing:-0.5px;">事業所</span>
<span style="left:91.00px;top:222.80px;">整理記号</span>
<span class="dash" style="left:276.30px;top:216.90px;">—</span>
<span style="left:419.30px;top:206.80px;letter-spacing:-0.5px;">事業所</span>
<span style="left:419.30px;top:225.80px;">番</span>
<span style="left:447.50px;top:225.80px;">号</span>
<span style="left:62.00px;top:290.90px;">提</span>
<span style="left:62.00px;top:313.60px;">出</span>
<span style="left:62.00px;top:336.30px;">者</span>
<span style="left:62.00px;top:359.00px;">記</span>
<span style="left:62.00px;top:381.70px;">入</span>
<span style="left:62.00px;top:404.40px;">欄</span>
<span style="left:163.00px;top:257.60px;">届書記入の個人番号に誤りがないことを確認しました。</span>
<span style="left:164.50px;top:276.10px;">〒</span>
<span class="dash" style="left:222.50px;top:275.80px;">—</span>
<span style="left:99.00px;top:285.10px;">事業所</span>
<span style="left:99.00px;top:304.35px;">所在地</span>
<span style="left:99.00px;top:356.35px;">事業所</span>
<span style="left:99.00px;top:376.35px;">名</span>
<span style="left:128.60px;top:376.35px;">称</span>
<span style="left:99.00px;top:416.35px;">事業主</span>
<span style="left:99.00px;top:435.85px;">氏</span>
<span style="left:128.60px;top:435.85px;">名</span>
<span style="left:91.50px;top:483.90px;">電話番号</span>
<span style="left:269.50px;top:483.60px;"><i>(</i></span>
<span style="left:364.80px;top:483.60px;"><i>)</i></span>
<span style="left:667.50px;top:385.05px;font-size:14.9px;line-height:14.9px;">社会保険労務士記載欄</span>
<span style="left:648.50px;top:416.35px;">氏</span>
<span style="left:678.00px;top:416.35px;">名</span>
<span style="left:708.50px;top:416.35px;">等</span>
<span style="left:62.10px;top:623.60px;width:14.8px;text-align:center;">被</span>
<span style="left:62.10px;top:639.10px;width:14.8px;text-align:center;">保</span>
<span style="left:62.10px;top:654.60px;width:14.8px;text-align:center;">険</span>
<span style="left:62.10px;top:670.10px;width:14.8px;text-align:center;">者</span>
<span style="left:62.10px;top:685.60px;width:14.8px;text-align:center;">1</span>
<span style="left:91.00px;top:531.35px;">①</span>
<span style="left:91.30px;top:555.85px;">被保険者</span>
<span style="left:91.30px;top:575.10px;">整理番号</span>
<span style="left:279.50px;top:530.90px;">②</span>
<span style="left:285.80px;top:563.85px;">氏</span>
<span style="left:305.60px;top:563.85px;">名</span>
<span style="left:332.20px;top:531.80px;font-size:14.6px;line-height:14.6px;letter-spacing:0.15px;"><i>(</i>フリガナ<i>)</i></span>
<span style="left:333.00px;top:555.10px;"><i>(</i>氏<i>)</i></span>
<span style="left:533.00px;top:555.10px;"><i>(</i>名<i>)</i></span>
<span style="left:733.00px;top:531.35px;">③</span>
<span style="left:744.60px;top:560.85px;">生</span>
<span style="left:766.80px;top:560.85px;">年</span>
<span style="left:744.60px;top:580.10px;">月</span>
<span style="left:766.80px;top:580.10px;">日</span>
<span style="left:797.00px;top:541.85px;">5. 昭和</span>
<span style="left:797.00px;top:565.85px;">7. 平成</span>
<span style="left:797.00px;top:588.85px;">9. 令和</span>
<span style="left:917.00px;top:531.85px;">年</span>
<span style="left:1003.50px;top:531.85px;">月</span>
<span style="left:1094.00px;top:531.85px;">日</span>
<span style="left:91.00px;top:619.10px;">④</span>
<span style="left:102.00px;top:637.60px;">個</span>
<span style="left:125.60px;top:637.60px;">人</span>
<span style="left:102.00px;top:652.60px;">番</span>
<span style="left:125.60px;top:652.60px;">号</span>
<span style="left:98.80px;top:671.35px;letter-spacing:0.3px;">基礎年</span>
<span style="left:98.80px;top:687.10px;letter-spacing:0.3px;">金番号</span>
<span style="left:479.50px;top:619.35px;">⑤</span>
<span style="left:481.60px;top:650.10px;">喪</span>
<span style="left:511.80px;top:650.10px;">失</span>
<span style="left:481.60px;top:667.60px;">年月日</span>
<span style="left:541.00px;top:620.10px;">9.</span>
<span style="left:539.00px;top:647.60px;">令</span>
<span style="left:539.00px;top:666.85px;">和</span>
<span style="left:599.50px;top:618.60px;">年</span>
<span style="left:656.50px;top:618.60px;">月</span>
<span style="left:714.60px;top:618.60px;">日</span>
<span style="left:733.00px;top:619.10px;">⑥</span>
<span style="left:740.80px;top:639.35px;">喪</span>
<span style="left:763.00px;top:639.35px;">失</span>
<span style="left:734.60px;top:658.35px;letter-spacing:-1.25px;"><i>(</i>不該当<i>)</i></span>
<span style="left:743.30px;top:679.35px;">原</span>
<span style="left:765.50px;top:679.35px;">因</span>
<span style="left:803.50px;top:617.60px;">4.</span>
<span style="left:826.50px;top:617.60px;">退職等<i>(</i>令和</span>
<span style="left:938.30px;top:617.60px;">年</span>
<span style="left:983.80px;top:617.60px;">月</span>
<span style="left:1029.50px;top:617.60px;">日退職等<i>)</i></span>
<span style="left:803.50px;top:636.35px;">5.</span>
<span style="left:826.50px;top:636.35px;">死亡</span>
<span style="left:870.90px;top:636.35px;"><i>(</i>令和</span>
<span style="left:938.30px;top:636.35px;">年</span>
<span style="left:983.80px;top:636.35px;">月</span>
<span style="left:1029.50px;top:636.35px;">日死亡<i>)</i></span>
<span style="left:803.50px;top:655.10px;">7.</span>
<span style="left:826.50px;top:655.10px;">75歳到達<i>(</i>健康保険のみ喪失<i>)</i></span>
<span style="left:803.50px;top:673.35px;">9.</span>
<span style="left:826.50px;top:673.35px;">障害認定<i>(</i>健康保険のみ喪失<i>)</i></span>
<span style="left:803.50px;top:691.85px;">11.</span>
<span style="left:833.50px;top:691.85px;">社会保障協定</span>
<span style="left:91.00px;top:710.60px;">⑦</span>
<span style="left:106.00px;top:745.60px;">備考</span>
<span style="left:539.50px;top:710.85px;">資格確認書回収</span>
<span style="left:594.50px;top:735.85px;">添付</span>
<span style="left:699.50px;top:735.85px;">枚</span>
<span style="left:594.50px;top:760.10px;">返不能</span>
<span style="left:699.50px;top:760.10px;">枚</span>
<span style="left:733.00px;top:711.35px;">⑧</span>
<span style="left:747.00px;top:740.85px;">70歳</span>
<span style="left:740.60px;top:760.10px;letter-spacing:-0.4px;">不該当</span>
<span style="left:811.50px;top:713.35px;"><b class="sq"></b>70歳以上被用者不該当</span>
<span style="left:820.00px;top:734.35px;"><i>(</i>退職日または死亡日を記入してください<i>)</i></span>
<span style="left:802.80px;top:770.20px;font-size:14.6px;line-height:14.6px;">不該当年月日</span>
<span style="left:904.50px;top:757.60px;">9.</span>
<span style="left:905.80px;top:779.05px;font-size:14.4px;line-height:14.4px;">令和</span>
<span style="left:980.80px;top:758.35px;">年</span>
<span style="left:1035.50px;top:758.35px;">月</span>
<span style="left:1094.00px;top:758.35px;">日</span>
<span style="left:62.10px;top:902.90px;width:14.8px;text-align:center;">被</span>
<span style="left:62.10px;top:918.40px;width:14.8px;text-align:center;">保</span>
<span style="left:62.10px;top:933.90px;width:14.8px;text-align:center;">険</span>
<span style="left:62.10px;top:949.40px;width:14.8px;text-align:center;">者</span>
<span style="left:62.10px;top:964.90px;width:14.8px;text-align:center;">2</span>
<span style="left:91.00px;top:810.65px;">①</span>
<span style="left:91.30px;top:835.15px;">被保険者</span>
<span style="left:91.30px;top:854.40px;">整理番号</span>
<span style="left:279.50px;top:810.20px;">②</span>
<span style="left:285.80px;top:843.15px;">氏</span>
<span style="left:305.60px;top:843.15px;">名</span>
<span style="left:332.20px;top:811.10px;font-size:14.6px;line-height:14.6px;letter-spacing:0.15px;"><i>(</i>フリガナ<i>)</i></span>
<span style="left:333.00px;top:834.40px;"><i>(</i>氏<i>)</i></span>
<span style="left:533.00px;top:834.40px;"><i>(</i>名<i>)</i></span>
<span style="left:733.00px;top:810.65px;">③</span>
<span style="left:744.60px;top:840.15px;">生</span>
<span style="left:766.80px;top:840.15px;">年</span>
<span style="left:744.60px;top:859.40px;">月</span>
<span style="left:766.80px;top:859.40px;">日</span>
<span style="left:797.00px;top:821.15px;">5. 昭和</span>
<span style="left:797.00px;top:845.15px;">7. 平成</span>
<span style="left:797.00px;top:868.15px;">9. 令和</span>
<span style="left:917.00px;top:811.15px;">年</span>
<span style="left:1003.50px;top:811.15px;">月</span>
<span style="left:1094.00px;top:811.15px;">日</span>
<span style="left:91.00px;top:898.40px;">④</span>
<span style="left:102.00px;top:916.90px;">個</span>
<span style="left:125.60px;top:916.90px;">人</span>
<span style="left:102.00px;top:931.90px;">番</span>
<span style="left:125.60px;top:931.90px;">号</span>
<span style="left:98.80px;top:950.65px;letter-spacing:0.3px;">基礎年</span>
<span style="left:98.80px;top:966.40px;letter-spacing:0.3px;">金番号</span>
<span style="left:479.50px;top:898.65px;">⑤</span>
<span style="left:481.60px;top:929.40px;">喪</span>
<span style="left:511.80px;top:929.40px;">失</span>
<span style="left:481.60px;top:946.90px;">年月日</span>
<span style="left:541.00px;top:899.40px;">9.</span>
<span style="left:539.00px;top:926.90px;">令</span>
<span style="left:539.00px;top:946.15px;">和</span>
<span style="left:599.50px;top:897.90px;">年</span>
<span style="left:656.50px;top:897.90px;">月</span>
<span style="left:714.60px;top:897.90px;">日</span>
<span style="left:733.00px;top:898.40px;">⑥</span>
<span style="left:740.80px;top:918.65px;">喪</span>
<span style="left:763.00px;top:918.65px;">失</span>
<span style="left:734.60px;top:937.65px;letter-spacing:-1.25px;"><i>(</i>不該当<i>)</i></span>
<span style="left:743.30px;top:958.65px;">原</span>
<span style="left:765.50px;top:958.65px;">因</span>
<span style="left:803.50px;top:896.90px;">4.</span>
<span style="left:826.50px;top:896.90px;">退職等<i>(</i>令和</span>
<span style="left:938.30px;top:896.90px;">年</span>
<span style="left:983.80px;top:896.90px;">月</span>
<span style="left:1029.50px;top:896.90px;">日退職等<i>)</i></span>
<span style="left:803.50px;top:915.65px;">5.</span>
<span style="left:826.50px;top:915.65px;">死亡</span>
<span style="left:870.90px;top:915.65px;"><i>(</i>令和</span>
<span style="left:938.30px;top:915.65px;">年</span>
<span style="left:983.80px;top:915.65px;">月</span>
<span style="left:1029.50px;top:915.65px;">日死亡<i>)</i></span>
<span style="left:803.50px;top:934.40px;">7.</span>
<span style="left:826.50px;top:934.40px;">75歳到達<i>(</i>健康保険のみ喪失<i>)</i></span>
<span style="left:803.50px;top:952.65px;">9.</span>
<span style="left:826.50px;top:952.65px;">障害認定<i>(</i>健康保険のみ喪失<i>)</i></span>
<span style="left:803.50px;top:971.15px;">11.</span>
<span style="left:833.50px;top:971.15px;">社会保障協定</span>
<span style="left:91.00px;top:989.90px;">⑦</span>
<span style="left:106.00px;top:1024.90px;">備考</span>
<span style="left:539.50px;top:990.15px;">資格確認書回収</span>
<span style="left:594.50px;top:1015.15px;">添付</span>
<span style="left:699.50px;top:1015.15px;">枚</span>
<span style="left:594.50px;top:1039.40px;">返不能</span>
<span style="left:699.50px;top:1039.40px;">枚</span>
<span style="left:733.00px;top:990.65px;">⑧</span>
<span style="left:747.00px;top:1020.15px;">70歳</span>
<span style="left:740.60px;top:1039.40px;letter-spacing:-0.4px;">不該当</span>
<span style="left:811.50px;top:992.65px;"><b class="sq"></b>70歳以上被用者不該当</span>
<span style="left:820.00px;top:1013.65px;"><i>(</i>退職日または死亡日を記入してください<i>)</i></span>
<span style="left:802.80px;top:1049.50px;font-size:14.6px;line-height:14.6px;">不該当年月日</span>
<span style="left:904.50px;top:1036.90px;">9.</span>
<span style="left:905.80px;top:1058.35px;font-size:14.4px;line-height:14.4px;">令和</span>
<span style="left:980.80px;top:1037.65px;">年</span>
<span style="left:1035.50px;top:1037.65px;">月</span>
<span style="left:1094.00px;top:1037.65px;">日</span>
<span style="left:62.10px;top:1182.20px;width:14.8px;text-align:center;">被</span>
<span style="left:62.10px;top:1197.70px;width:14.8px;text-align:center;">保</span>
<span style="left:62.10px;top:1213.20px;width:14.8px;text-align:center;">険</span>
<span style="left:62.10px;top:1228.70px;width:14.8px;text-align:center;">者</span>
<span style="left:62.10px;top:1244.20px;width:14.8px;text-align:center;">3</span>
<span style="left:91.00px;top:1089.95px;">①</span>
<span style="left:91.30px;top:1114.45px;">被保険者</span>
<span style="left:91.30px;top:1133.70px;">整理番号</span>
<span style="left:279.50px;top:1089.50px;">②</span>
<span style="left:285.80px;top:1122.45px;">氏</span>
<span style="left:305.60px;top:1122.45px;">名</span>
<span style="left:332.20px;top:1090.40px;font-size:14.6px;line-height:14.6px;letter-spacing:0.15px;"><i>(</i>フリガナ<i>)</i></span>
<span style="left:333.00px;top:1113.70px;"><i>(</i>氏<i>)</i></span>
<span style="left:533.00px;top:1113.70px;"><i>(</i>名<i>)</i></span>
<span style="left:733.00px;top:1089.95px;">③</span>
<span style="left:744.60px;top:1119.45px;">生</span>
<span style="left:766.80px;top:1119.45px;">年</span>
<span style="left:744.60px;top:1138.70px;">月</span>
<span style="left:766.80px;top:1138.70px;">日</span>
<span style="left:797.00px;top:1100.45px;">5. 昭和</span>
<span style="left:797.00px;top:1124.45px;">7. 平成</span>
<span style="left:797.00px;top:1147.45px;">9. 令和</span>
<span style="left:917.00px;top:1090.45px;">年</span>
<span style="left:1003.50px;top:1090.45px;">月</span>
<span style="left:1094.00px;top:1090.45px;">日</span>
<span style="left:91.00px;top:1177.70px;">④</span>
<span style="left:102.00px;top:1196.20px;">個</span>
<span style="left:125.60px;top:1196.20px;">人</span>
<span style="left:102.00px;top:1211.20px;">番</span>
<span style="left:125.60px;top:1211.20px;">号</span>
<span style="left:98.80px;top:1229.95px;letter-spacing:0.3px;">基礎年</span>
<span style="left:98.80px;top:1245.70px;letter-spacing:0.3px;">金番号</span>
<span style="left:479.50px;top:1177.95px;">⑤</span>
<span style="left:481.60px;top:1208.70px;">喪</span>
<span style="left:511.80px;top:1208.70px;">失</span>
<span style="left:481.60px;top:1226.20px;">年月日</span>
<span style="left:541.00px;top:1178.70px;">9.</span>
<span style="left:539.00px;top:1206.20px;">令</span>
<span style="left:539.00px;top:1225.45px;">和</span>
<span style="left:599.50px;top:1177.20px;">年</span>
<span style="left:656.50px;top:1177.20px;">月</span>
<span style="left:714.60px;top:1177.20px;">日</span>
<span style="left:733.00px;top:1177.70px;">⑥</span>
<span style="left:740.80px;top:1197.95px;">喪</span>
<span style="left:763.00px;top:1197.95px;">失</span>
<span style="left:734.60px;top:1216.95px;letter-spacing:-1.25px;"><i>(</i>不該当<i>)</i></span>
<span style="left:743.30px;top:1237.95px;">原</span>
<span style="left:765.50px;top:1237.95px;">因</span>
<span style="left:803.50px;top:1176.20px;">4.</span>
<span style="left:826.50px;top:1176.20px;">退職等<i>(</i>令和</span>
<span style="left:938.30px;top:1176.20px;">年</span>
<span style="left:983.80px;top:1176.20px;">月</span>
<span style="left:1029.50px;top:1176.20px;">日退職等<i>)</i></span>
<span style="left:803.50px;top:1194.95px;">5.</span>
<span style="left:826.50px;top:1194.95px;">死亡</span>
<span style="left:870.90px;top:1194.95px;"><i>(</i>令和</span>
<span style="left:938.30px;top:1194.95px;">年</span>
<span style="left:983.80px;top:1194.95px;">月</span>
<span style="left:1029.50px;top:1194.95px;">日死亡<i>)</i></span>
<span style="left:803.50px;top:1213.70px;">7.</span>
<span style="left:826.50px;top:1213.70px;">75歳到達<i>(</i>健康保険のみ喪失<i>)</i></span>
<span style="left:803.50px;top:1231.95px;">9.</span>
<span style="left:826.50px;top:1231.95px;">障害認定<i>(</i>健康保険のみ喪失<i>)</i></span>
<span style="left:803.50px;top:1250.45px;">11.</span>
<span style="left:833.50px;top:1250.45px;">社会保障協定</span>
<span style="left:91.00px;top:1269.20px;">⑦</span>
<span style="left:106.00px;top:1304.20px;">備考</span>
<span style="left:539.50px;top:1269.45px;">資格確認書回収</span>
<span style="left:594.50px;top:1294.45px;">添付</span>
<span style="left:699.50px;top:1294.45px;">枚</span>
<span style="left:594.50px;top:1318.70px;">返不能</span>
<span style="left:699.50px;top:1318.70px;">枚</span>
<span style="left:733.00px;top:1269.95px;">⑧</span>
<span style="left:747.00px;top:1299.45px;">70歳</span>
<span style="left:740.60px;top:1318.70px;letter-spacing:-0.4px;">不該当</span>
<span style="left:811.50px;top:1271.95px;"><b class="sq"></b>70歳以上被用者不該当</span>
<span style="left:820.00px;top:1292.95px;"><i>(</i>退職日または死亡日を記入してください<i>)</i></span>
<span style="left:802.80px;top:1328.80px;font-size:14.6px;line-height:14.6px;">不該当年月日</span>
<span style="left:904.50px;top:1316.20px;">9.</span>
<span style="left:905.80px;top:1337.65px;font-size:14.4px;line-height:14.4px;">令和</span>
<span style="left:980.80px;top:1316.95px;">年</span>
<span style="left:1035.50px;top:1316.95px;">月</span>
<span style="left:1094.00px;top:1316.95px;">日</span>
<span style="left:62.10px;top:1461.50px;width:14.8px;text-align:center;">被</span>
<span style="left:62.10px;top:1477.00px;width:14.8px;text-align:center;">保</span>
<span style="left:62.10px;top:1492.50px;width:14.8px;text-align:center;">険</span>
<span style="left:62.10px;top:1508.00px;width:14.8px;text-align:center;">者</span>
<span style="left:62.10px;top:1523.50px;width:14.8px;text-align:center;">4</span>
<span style="left:91.00px;top:1369.25px;">①</span>
<span style="left:91.30px;top:1393.75px;">被保険者</span>
<span style="left:91.30px;top:1413.00px;">整理番号</span>
<span style="left:279.50px;top:1368.80px;">②</span>
<span style="left:285.80px;top:1401.75px;">氏</span>
<span style="left:305.60px;top:1401.75px;">名</span>
<span style="left:332.20px;top:1369.70px;font-size:14.6px;line-height:14.6px;letter-spacing:0.15px;"><i>(</i>フリガナ<i>)</i></span>
<span style="left:333.00px;top:1393.00px;"><i>(</i>氏<i>)</i></span>
<span style="left:533.00px;top:1393.00px;"><i>(</i>名<i>)</i></span>
<span style="left:733.00px;top:1369.25px;">③</span>
<span style="left:744.60px;top:1398.75px;">生</span>
<span style="left:766.80px;top:1398.75px;">年</span>
<span style="left:744.60px;top:1418.00px;">月</span>
<span style="left:766.80px;top:1418.00px;">日</span>
<span style="left:797.00px;top:1379.75px;">5. 昭和</span>
<span style="left:797.00px;top:1403.75px;">7. 平成</span>
<span style="left:797.00px;top:1426.75px;">9. 令和</span>
<span style="left:917.00px;top:1369.75px;">年</span>
<span style="left:1003.50px;top:1369.75px;">月</span>
<span style="left:1094.00px;top:1369.75px;">日</span>
<span style="left:91.00px;top:1457.00px;">④</span>
<span style="left:102.00px;top:1475.50px;">個</span>
<span style="left:125.60px;top:1475.50px;">人</span>
<span style="left:102.00px;top:1490.50px;">番</span>
<span style="left:125.60px;top:1490.50px;">号</span>
<span style="left:98.80px;top:1509.25px;letter-spacing:0.3px;">基礎年</span>
<span style="left:98.80px;top:1525.00px;letter-spacing:0.3px;">金番号</span>
<span style="left:479.50px;top:1457.25px;">⑤</span>
<span style="left:481.60px;top:1488.00px;">喪</span>
<span style="left:511.80px;top:1488.00px;">失</span>
<span style="left:481.60px;top:1505.50px;">年月日</span>
<span style="left:541.00px;top:1458.00px;">9.</span>
<span style="left:539.00px;top:1485.50px;">令</span>
<span style="left:539.00px;top:1504.75px;">和</span>
<span style="left:599.50px;top:1456.50px;">年</span>
<span style="left:656.50px;top:1456.50px;">月</span>
<span style="left:714.60px;top:1456.50px;">日</span>
<span style="left:733.00px;top:1457.00px;">⑥</span>
<span style="left:740.80px;top:1477.25px;">喪</span>
<span style="left:763.00px;top:1477.25px;">失</span>
<span style="left:734.60px;top:1496.25px;letter-spacing:-1.25px;"><i>(</i>不該当<i>)</i></span>
<span style="left:743.30px;top:1517.25px;">原</span>
<span style="left:765.50px;top:1517.25px;">因</span>
<span style="left:803.50px;top:1455.50px;">4.</span>
<span style="left:826.50px;top:1455.50px;">退職等<i>(</i>令和</span>
<span style="left:938.30px;top:1455.50px;">年</span>
<span style="left:983.80px;top:1455.50px;">月</span>
<span style="left:1029.50px;top:1455.50px;">日退職等<i>)</i></span>
<span style="left:803.50px;top:1474.25px;">5.</span>
<span style="left:826.50px;top:1474.25px;">死亡</span>
<span style="left:870.90px;top:1474.25px;"><i>(</i>令和</span>
<span style="left:938.30px;top:1474.25px;">年</span>
<span style="left:983.80px;top:1474.25px;">月</span>
<span style="left:1029.50px;top:1474.25px;">日死亡<i>)</i></span>
<span style="left:803.50px;top:1493.00px;">7.</span>
<span style="left:826.50px;top:1493.00px;">75歳到達<i>(</i>健康保険のみ喪失<i>)</i></span>
<span style="left:803.50px;top:1511.25px;">9.</span>
<span style="left:826.50px;top:1511.25px;">障害認定<i>(</i>健康保険のみ喪失<i>)</i></span>
<span style="left:803.50px;top:1529.75px;">11.</span>
<span style="left:833.50px;top:1529.75px;">社会保障協定</span>
<span style="left:91.00px;top:1548.50px;">⑦</span>
<span style="left:106.00px;top:1583.50px;">備考</span>
<span style="left:539.50px;top:1548.75px;">資格確認書回収</span>
<span style="left:594.50px;top:1573.75px;">添付</span>
<span style="left:699.50px;top:1573.75px;">枚</span>
<span style="left:594.50px;top:1598.00px;">返不能</span>
<span style="left:699.50px;top:1598.00px;">枚</span>
<span style="left:733.00px;top:1549.25px;">⑧</span>
<span style="left:747.00px;top:1578.75px;">70歳</span>
<span style="left:740.60px;top:1598.00px;letter-spacing:-0.4px;">不該当</span>
<span style="left:811.50px;top:1551.25px;"><b class="sq"></b>70歳以上被用者不該当</span>
<span style="left:820.00px;top:1572.25px;"><i>(</i>退職日または死亡日を記入してください<i>)</i></span>
<span style="left:802.80px;top:1608.10px;font-size:14.6px;line-height:14.6px;">不該当年月日</span>
<span style="left:904.50px;top:1595.50px;">9.</span>
<span style="left:905.80px;top:1616.95px;font-size:14.4px;line-height:14.4px;">令和</span>
<span style="left:980.80px;top:1596.25px;">年</span>
<span style="left:1035.50px;top:1596.25px;">月</span>
<span style="left:1094.00px;top:1596.25px;">日</span>
</div>
</body>
</html>
